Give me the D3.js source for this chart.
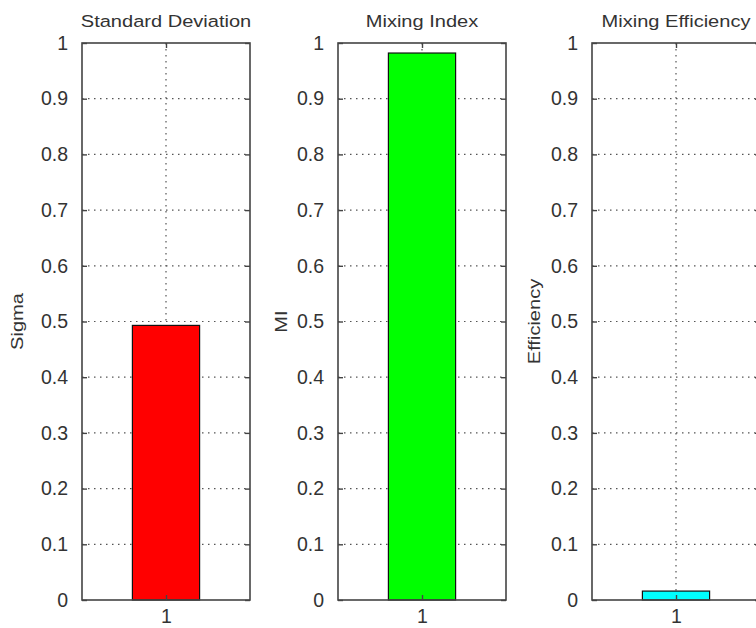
<!DOCTYPE html>
<html>
<head>
<meta charset="utf-8">
<script src="https://cdn.jsdelivr.net/npm/d3@7"></script>
<style>
  html, body { margin: 0; padding: 0; background: #fff; }
  svg { display: block; }
  text { font-family: Arial, "Liberation Sans", Helvetica, sans-serif; fill: #333; }
</style>
</head>
<body>
<svg id="chart" width="756" height="628"></svg>
<script>
// Three single-bar panels: one metric each
const titles = ["Standard Deviation", "Mixing Index", "Mixing Efficiency"];
const yLabels = ["Sigma", "MI", "Efficiency"];
const categories = [1];
const values = [0.493, 0.982, 0.016];
const colors = ["#ff0000", "#00ff00", "#00ffff"];
const yTicks = [0, 0.1, 0.2, 0.3, 0.4, 0.5, 0.6, 0.7, 0.8, 0.9, 1];
const yTickLabels = ["0", "0.1", "0.2", "0.3", "0.4", "0.5", "0.6", "0.7", "0.8", "0.9", "1"];

const svg = d3.select("#chart");
const panelLeft = [82, 338, 592];
const panelW = 168;
const plotTop = 43, plotBottom = 600;
const axisColor = "#444";

titles.forEach((title, i) => {
  const g = svg.append("g").attr("transform", `translate(${panelLeft[i]},0)`);
  const x = d3.scaleLinear().domain([0, 2]).range([0, panelW]);
  const y = d3.scaleLinear().domain([0, 1]).range([plotBottom, plotTop]);

  // dotted grid
  g.selectAll("line.hgrid").data(yTicks.slice(1, -1)).join("line")
    .attr("class", "hgrid")
    .attr("x1", 0).attr("x2", panelW)
    .attr("y1", d => y(d)).attr("y2", d => y(d))
    .attr("stroke", "#555").attr("stroke-width", 1.2)
    .attr("stroke-dasharray", "1.5,4.5");
  g.selectAll("line.vgrid").data(categories).join("line")
    .attr("class", "vgrid")
    .attr("x1", d => x(d)).attr("x2", d => x(d))
    .attr("y1", plotTop).attr("y2", plotBottom)
    .attr("stroke", "#555").attr("stroke-width", 1.2)
    .attr("stroke-dasharray", "1.5,4.5");

  // bar (width 0.8 in data units)
  g.selectAll("rect.bar").data(categories).join("rect")
    .attr("class", "bar")
    .attr("x", d => x(d - 0.4))
    .attr("width", x(0.8) - x(0))
    .attr("y", y(values[i]))
    .attr("height", y(0) - y(values[i]))
    .attr("fill", colors[i])
    .attr("stroke", "#111").attr("stroke-width", 1.2);

  // axes box
  g.append("rect").attr("x", 0).attr("y", plotTop)
    .attr("width", panelW).attr("height", plotBottom - plotTop)
    .attr("fill", "none").attr("stroke", axisColor).attr("stroke-width", 1.6);

  // left axis with inward ticks
  const yAxis = d3.axisLeft(y).tickValues(yTicks)
    .tickFormat((d, k) => yTickLabels[k]).tickSizeInner(-5).tickSizeOuter(0).tickPadding(14);
  const ya = g.append("g").call(yAxis);
  ya.select(".domain").remove();
  ya.selectAll(".tick line").attr("stroke", axisColor).attr("stroke-width", 1.4);
  ya.selectAll(".tick text").attr("font-size", 19.5).attr("fill", "#333")
    .attr("font-family", "Arial, 'Liberation Sans', sans-serif");

  // right-side inward ticks
  const yr = g.append("g").attr("transform", `translate(${panelW},0)`)
    .call(d3.axisRight(y).tickValues(yTicks).tickFormat("").tickSizeInner(-5).tickSizeOuter(0));
  yr.select(".domain").remove();
  yr.selectAll(".tick line").attr("stroke", axisColor).attr("stroke-width", 1.4);

  // bottom axis
  const xa = g.append("g").attr("transform", `translate(0,${plotBottom})`)
    .call(d3.axisBottom(x).tickValues(categories).tickFormat(d3.format("d")).tickSizeInner(-5).tickSizeOuter(0).tickPadding(9));
  xa.select(".domain").remove();
  xa.selectAll(".tick line").attr("stroke", axisColor).attr("stroke-width", 1.4);
  xa.selectAll(".tick text").attr("font-size", 19.5).attr("fill", "#333")
    .attr("font-family", "Arial, 'Liberation Sans', sans-serif");

  // top inward tick
  const xt = g.append("g").attr("transform", `translate(0,${plotTop})`)
    .call(d3.axisTop(x).tickValues(categories).tickFormat("").tickSizeInner(-5).tickSizeOuter(0));
  xt.select(".domain").remove();
  xt.selectAll(".tick line").attr("stroke", axisColor).attr("stroke-width", 1.4);

  // title
  g.append("text")
    .attr("transform", `translate(${panelW / 2},27) scale(1.18,1)`)
    .attr("text-anchor", "middle")
    .attr("font-size", 17)
    .text(title);

  // y label
  const labelX = [-59, -51, -52][i];
  g.append("text")
    .attr("transform", `translate(${labelX},${(plotTop + plotBottom) / 2}) rotate(-90) scale(1.18,1)`)
    .attr("text-anchor", "middle")
    .attr("font-size", 17)
    .text(yLabels[i]);
});
</script>
</body>
</html>
